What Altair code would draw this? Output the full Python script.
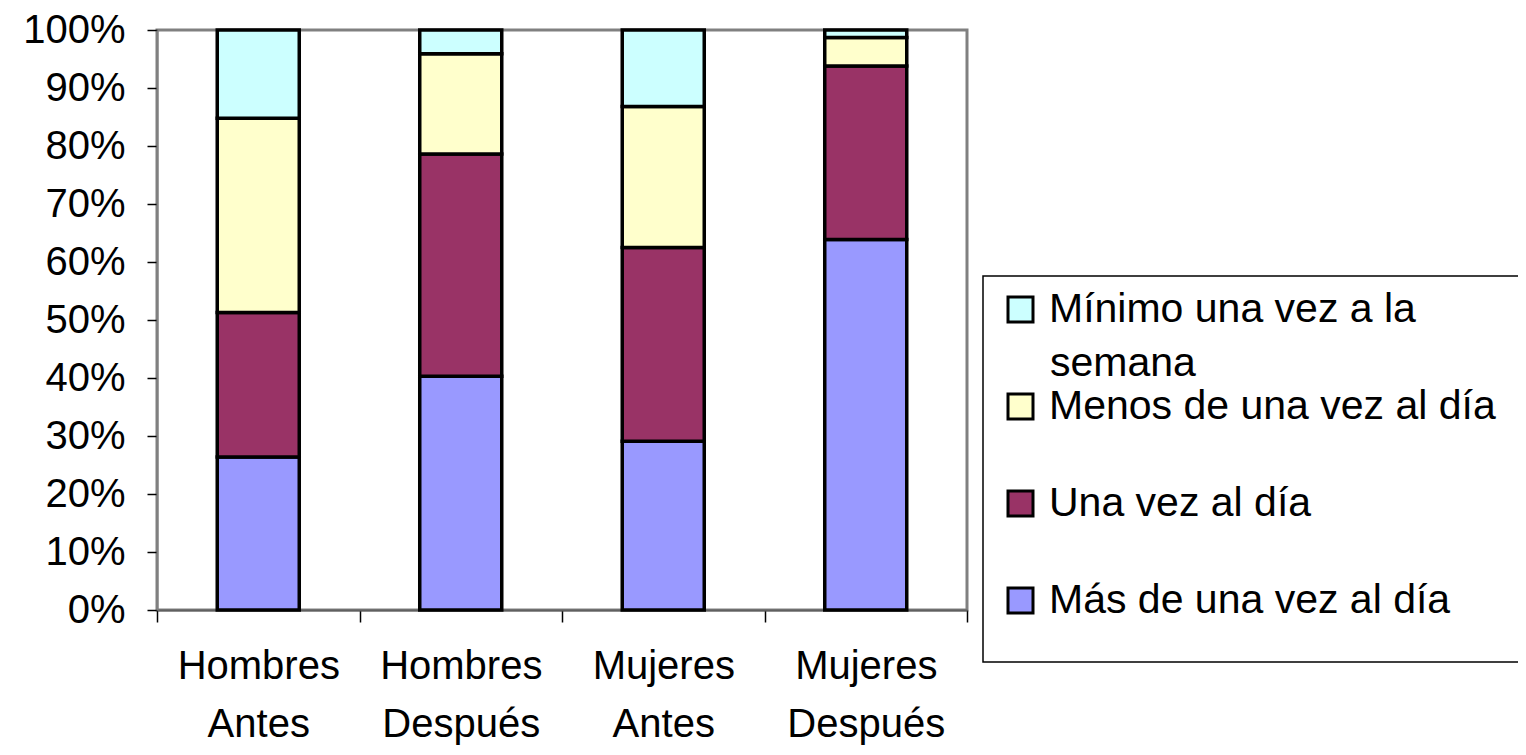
import altair as alt
import pandas as pd

groups = ["Hombres Antes", "Hombres Después", "Mujeres Antes", "Mujeres Después"]
series = ["Mínimo una vez a la semana", "Menos de una vez al día", "Una vez al día", "Más de una vez al día"]
colors = ["#CCFFFF", "#FFFFCC", "#993366", "#9999FF"]

mas = [26.4, 40.3, 29.1, 63.9]
una = [24.9, 38.3, 33.4, 29.9]
menos = [33.5, 17.3, 24.3, 4.9]
minimo = [15.2, 4.1, 13.2, 1.3]

rows = []
for vals, name, order in [(mas, series[3], 0), (una, series[2], 1), (menos, series[1], 2), (minimo, series[0], 3)]:
    for g, v in zip(groups, vals):
        rows.append({"grupo": g, "serie": name, "valor": v, "orden": order})
df = pd.DataFrame(rows)

FONT = "Liberation Sans"

bars = alt.Chart(df).mark_bar(stroke="black", strokeWidth=3.5, width=alt.RelativeBandSize(0.405)).encode(
    x=alt.X("grupo:N", sort=groups, title=None,
            scale=alt.Scale(paddingInner=0, paddingOuter=0),
            axis=alt.Axis(labelAngle=0, labelExpr="split(datum.label, ' ')", tickBand="extent",
                          labelFont=FONT, labelFontSize=40, labelColor="black", labelLineHeight=58,
                          labelPadding=24, tickSize=12, tickColor="black", tickWidth=1.5,
                          domainColor="#606060", domainWidth=2, grid=False, labelBaseline="top")),
    y=alt.Y("valor:Q", stack="normalize", title=None,
            scale=alt.Scale(domain=[0, 1], nice=False),
            axis=alt.Axis(format=".0%", values=[0, 0.1, 0.2, 0.3, 0.4, 0.5, 0.6, 0.7, 0.8, 0.9, 1.0],
                          labelFont=FONT, labelFontSize=40, labelColor="black", labelPadding=22,
                          tickSize=10, tickColor="black", tickWidth=1.5,
                          domainColor="#808080", domainWidth=2, grid=False)),
    color=alt.Color("serie:N", scale=alt.Scale(domain=series, range=colors),
                    legend=alt.Legend(title=None, orient="none", legendX=843, legendY=259,
                                      padding=0, symbolType="square", symbolSize=625, symbolStrokeWidth=3,
                                      symbolStrokeColor="black", labelFont=FONT, labelFontSize=41,
                                      labelColor="black", labelLimit=0, rowPadding=55, labelOffset=8,
                                      labelExpr="datum.label == 'Mínimo una vez a la semana' ? 'Mínimo una vez a la' : datum.label")),
    order=alt.Order("orden:Q", sort="ascending"),
)

legend_box = alt.Chart(pd.DataFrame({"k": [0]})).mark_rect(
    fill="white", stroke="black", strokeWidth=1.5
).encode(x=alt.value(826), x2=alt.value(1420), y=alt.value(246), y2=alt.value(632))

semana = alt.Chart(pd.DataFrame({"t": ["semana"]})).mark_text(
    font=FONT, fontSize=41, align="left", baseline="alphabetic", color="black"
).encode(text="t:N", x=alt.value(893), y=alt.value(346))

chart = alt.layer(legend_box, bars, semana).properties(
    width=810, height=580,
    autosize="none",
    padding={"left": 149, "top": 22, "right": 551, "bottom": 137},
).configure_view(stroke="#808080", strokeWidth=3)

chart.save("out.html", embed_options={"renderer": "svg", "actions": False})
